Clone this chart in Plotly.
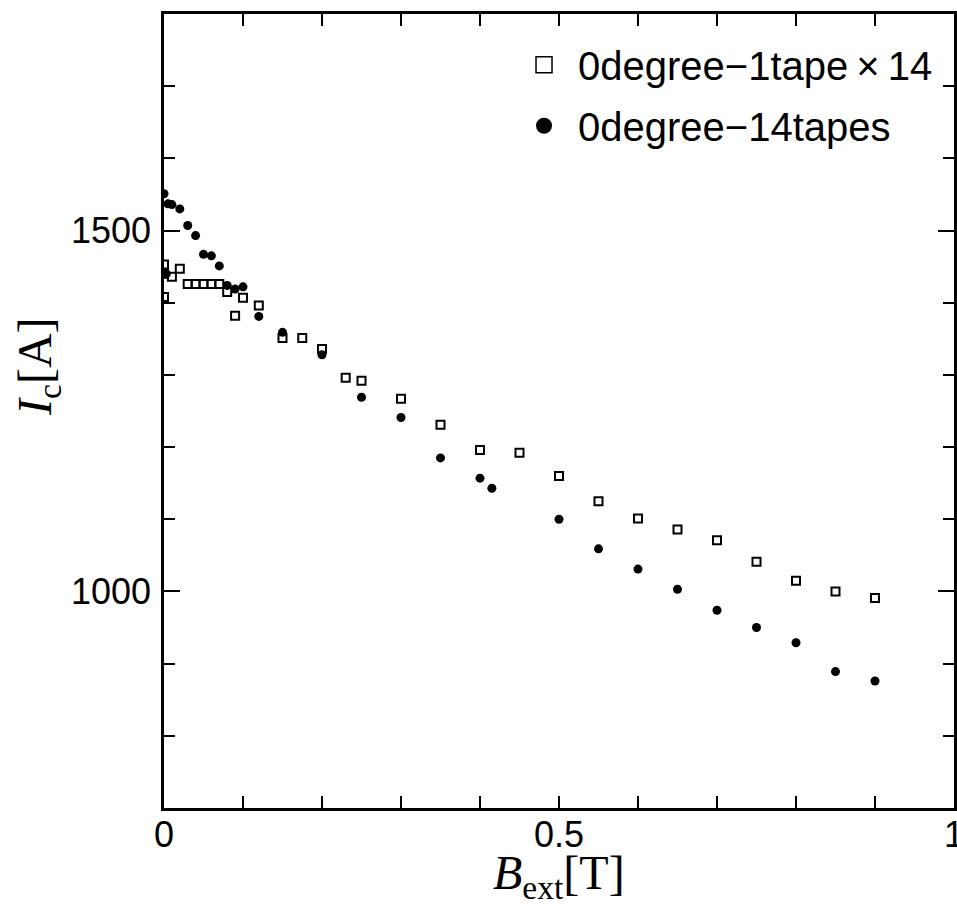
import plotly.graph_objects as go

# Data
sq_x = [0, 0, 0, 0.01, 0.02, 0.03, 0.04, 0.05, 0.06, 0.07, 0.08, 0.09, 0.10, 0.12,
        0.15, 0.175, 0.20, 0.23, 0.25, 0.30, 0.35, 0.40, 0.45, 0.50, 0.55, 0.60,
        0.65, 0.70, 0.75, 0.80, 0.85, 0.90]
sq_y = [1453, 1440, 1408, 1436, 1447, 1426, 1426, 1426, 1426, 1426, 1415, 1382, 1407, 1396,
        1351, 1351, 1336, 1296, 1292, 1267, 1231, 1196, 1192, 1160, 1125, 1101,
        1086, 1071, 1041, 1015, 1000, 991]

circ_x = [0, 0.003, 0.005, 0.01, 0.02, 0.03, 0.04, 0.05, 0.06, 0.07, 0.08, 0.09, 0.10, 0.12,
          0.15, 0.20, 0.25, 0.30, 0.35, 0.40, 0.415, 0.50, 0.55, 0.60, 0.65, 0.70,
          0.75, 0.80, 0.85, 0.90]
circ_y = [1551, 1440, 1537, 1536, 1530, 1507, 1493, 1467, 1465, 1451, 1424, 1419, 1422, 1381,
          1359, 1328, 1269, 1241, 1185, 1157, 1143, 1100, 1059, 1031, 1003, 974,
          950, 929, 889, 876]

name_sq = "0degree\u22121tape\u2009\u00d7\u200914"
name_circ = "0degree\u221214tapes"

# x ticks every 0.1, labelled only at 0, 0.5 and 1
x_ticks = [0, 0.1, 0.2, 0.3, 0.4, 0.5, 0.6, 0.7, 0.8, 0.9, 1.0]
x_ticktext = ["0", "", "", "", "", "0.5", "", "", "", "", "1"]
y_ticks = [1000, 1500]
y_ticktext = ["1000", "1500"]

fig = go.Figure()
fig.add_trace(go.Scatter(
    x=sq_x, y=sq_y, mode="markers", name=name_sq, showlegend=False,
    marker=dict(symbol="square-open", size=8, color="black", line=dict(width=2, color="black")),
))
fig.add_trace(go.Scatter(
    x=circ_x, y=circ_y, mode="markers", name=name_circ, showlegend=False,
    marker=dict(symbol="circle", size=9, color="black", line=dict(width=0)),
))
# legend entries (larger symbols, no data points)
fig.add_trace(go.Scatter(
    x=[None], y=[None], mode="markers", name=name_sq, legendgroup="a",
    marker=dict(symbol="square-open", size=30, color="black", line=dict(width=1.5, color="black")),
))
fig.add_trace(go.Scatter(
    x=[None], y=[None], mode="markers", name=name_circ, legendgroup="b",
    marker=dict(symbol="circle", size=30, color="black", line=dict(width=0)),
))

fig.update_xaxes(
    range=[0, 1], tickmode="array", tickvals=x_ticks, ticktext=x_ticktext,
    ticks="inside", ticklen=12, tickwidth=2, tickcolor="black",
    showline=True, linewidth=2.5, linecolor="black", mirror="allticks",
    layer="above traces",
    showgrid=False, zeroline=False, automargin=False, ticklabeloverflow="allow",
    ticklabelstandoff=-7,
    tickfont=dict(family="Liberation Sans", size=36, color="black"),
)
fig.update_yaxes(
    range=[700, 1800], tickmode="array", tickvals=y_ticks, ticktext=y_ticktext,
    ticks="inside", ticklen=16, tickwidth=1.5, tickcolor="black",
    minor=dict(dtick=100, tick0=0, ticks="inside", ticklen=11, tickwidth=1.5,
               tickcolor="black"),
    showline=True, linewidth=2.5, linecolor="black", mirror="ticks",
    showgrid=False, zeroline=False, automargin=False, ticklabeloverflow="allow",
    ticklabelstandoff=3,
    tickfont=dict(family="Liberation Sans", size=36, color="black"),
)

fig.update_layout(
    width=957, height=908,
    margin=dict(l=164, r=3, t=14, b=100),
    paper_bgcolor="white", plot_bgcolor="white",
    showlegend=True,
    legend=dict(x=0.438, y=0.977, xanchor="left", yanchor="top",
                bgcolor="rgba(0,0,0,0)", borderwidth=0,
                font=dict(family="Liberation Sans", size=40, color="black"),
                itemwidth=58, tracegroupgap=6, traceorder="grouped"),
    annotations=[
        dict(text="<i>I</i><sub>c</sub>[A]", xref="paper", yref="paper",
             x=-0.1595, y=0.5567, xanchor="center", yanchor="middle",
             textangle=-90, showarrow=False,
             font=dict(family="Liberation Serif", size=48, color="black")),
        dict(text="<i>B</i><sub>ext</sub>[T]", xref="paper", yref="paper",
             x=0.5, y=-0.045, xanchor="center", yanchor="top",
             showarrow=False,
             font=dict(family="Liberation Serif", size=48, color="black")),
    ],
)

fig.write_html(
    "out.html",
    config={"displayModeBar": False},
    post_script="document.body.style.margin='0';document.body.style.overflow='hidden';",
)
